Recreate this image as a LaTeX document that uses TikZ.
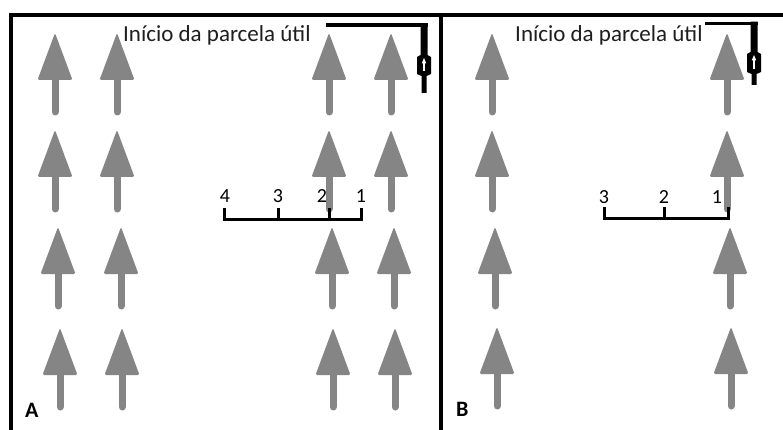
\documentclass[tikz,border=0pt]{standalone}
\usepackage{fontspec}
\setmainfont{Carlito}
\definecolor{treegray}{RGB}{133,133,133}
\definecolor{inkgray}{RGB}{30,30,30}
\tikzset{
  lbl/.style={inner sep=0pt, text=inkgray, font=\fontsize{23}{27}\selectfont},
  num/.style={inner sep=0pt, anchor=base, text=black, font=\fontsize{20}{24}\selectfont},
  panel/.style={inner sep=0pt, anchor=base west, text=black, font=\fontsize{22}{26}\selectfont\bfseries},
  framel/.style={line width=4pt, line join=miter},
  barl/.style={line width=3pt, line join=miter, line cap=rect},
  tree/.pic={
    \fill[treegray, rounded corners=1.5pt] (0,0) -- (17.5,47) -- (-17.5,47) -- cycle;
    \draw[treegray, line width=7pt, line cap=round] (0,45) -- (0,79);
  }
}
\newcommand\stakemark[6]{%
  \draw[line width=3.5pt] (#1,#2) -- (#3+3.5,#2);
  \fill (#3-3.5,#2-1.75) -- (#3+3.5,#2-1.75) -- (#3+3.5,#4) -- (#3+7,#4+2)
    -- (#3+7,#5-1) -- (#3+2.5,#5+1) -- (#3+2.5,#6) -- (#3-2.5,#6)
    -- (#3-2.5,#5+1) -- (#3-7,#5-1) -- (#3-7,#4+2) -- (#3-3.5,#4) -- cycle;
  \draw[white, line width=1.3pt] (#3,#5-4) -- (#3,#4+7);
  \fill[white] (#3,#4+3) -- (#3+2.3,#4+8.5) -- (#3-2.3,#4+8.5) -- cycle;
}
\begin{document}
\begin{tikzpicture}[x=1pt,y=-1pt]
\useasboundingbox[fill=white] (0,0) rectangle (783,430);
% frame
\draw[framel] (783,15) -- (10.5,15) -- (10.5,430);
\draw[framel] (440.5,15) -- (440.5,430);
% trees panel A
\foreach \x in {55,117,329,391} { \pic at (\x,33) {tree}; \pic at (\x,130) {tree}; }
\foreach \x in {58,121,332,394} { \pic at (\x,227) {tree}; }
\foreach \x in {60,122,333,395} { \pic at (\x,328) {tree}; }
% trees panel B
\pic at (492,33) {tree}; \pic at (727,33) {tree};
\pic at (492,130) {tree}; \pic at (727,130) {tree};
\pic at (495,227) {tree}; \pic at (730,227) {tree};
\pic at (497,327) {tree}; \pic at (731,327) {tree};
% scale bar A
\coordinate (a4) at (224.5,210); \coordinate (a3) at (278,210);
\coordinate (a2) at (329,210); \coordinate (a1) at (361,210);
\draw[barl] (a4) -- ++(0,9.5) -| (a1);
\draw[barl] (a3) -- ++(0,9.5);
\draw[barl] (a2) -- ++(0,9.5);
\node[num] (n4) at (225,203) {4};
\node[num] (n3) at (278,203) {3};
\node[num] (n2) at (322,203) {2};
\node[num] (n1) at (361,203) {1};
% scale bar B
\coordinate (b3) at (604,209); \coordinate (b2) at (664,209);
\coordinate (b1) at (728,209);
\draw[barl] (b3) -- ++(0,9.5) -| (b1);
\draw[barl] (b2) -- ++(0,9.5);
\node[num] (m3) at (604,204) {3};
\node[num] (m2) at (664,204) {2};
\node[num] (m1) at (717,204) {1};
% labels
\node[lbl, anchor=base west] (tA) at (123,42) {Início da parcela útil};
\node[lbl, anchor=base west] (tB) at (515,42) {Início da parcela útil};
\stakemark{326}{25}{424}{55}{75}{93}
\stakemark{705}{23.5}{754}{52}{73}{85}
\node[panel] (pA) at (25,417) {A};
\node[panel] (pB) at (456,416) {B};
\end{tikzpicture}
\end{document}
